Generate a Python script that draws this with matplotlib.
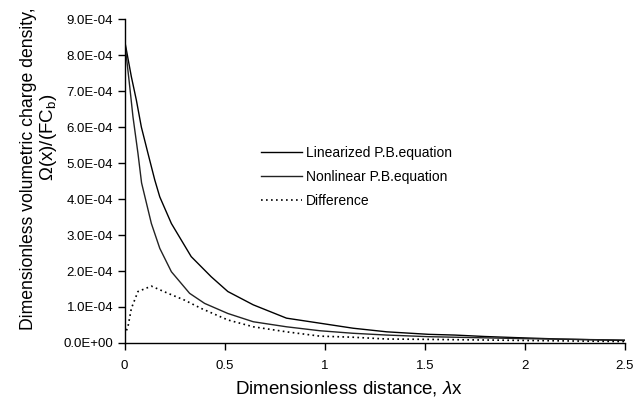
import matplotlib
matplotlib.use("Agg")
import matplotlib.pyplot as plt
from matplotlib.ticker import FuncFormatter, MultipleLocator

plt.rcParams['font.family'] = ['Liberation Sans', 'DejaVu Sans']
plt.rcParams['mathtext.fontset'] = 'custom'
plt.rcParams['mathtext.rm'] = 'Liberation Sans'
plt.rcParams['mathtext.it'] = 'Liberation Sans:italic'

# Linearized P.B. equation
x_lin = [0, 0.034, 0.059, 0.084, 0.117, 0.151, 0.176, 0.234, 0.333, 0.433, 0.516,
         0.643, 0.809, 0.976, 1.142, 1.31, 1.52, 1.65, 1.80, 1.95, 2.17, 2.5]
y_lin = [8.42e-4, 7.4e-4, 6.75e-4, 6.0e-4, 5.27e-4, 4.53e-4, 4.06e-4, 3.32e-4, 2.40e-4,
         1.84e-4, 1.43e-4, 1.06e-4, 0.69e-4, 0.55e-4, 0.41e-4, 0.31e-4, 0.24e-4,
         0.22e-4, 0.18e-4, 0.15e-4, 0.11e-4, 0.07e-4]

# Nonlinear P.B. equation
x_non = [0, 0.026, 0.042, 0.067, 0.085, 0.134, 0.176, 0.234, 0.325, 0.4, 0.516,
         0.643, 0.809, 0.976, 1.14, 1.31, 1.52, 2.0, 2.5]
y_non = [8.42e-4, 7.12e-4, 6.29e-4, 5.27e-4, 4.45e-4, 3.32e-4, 2.63e-4, 1.98e-4, 1.38e-4,
         1.10e-4, 0.82e-4, 0.59e-4, 0.45e-4, 0.34e-4, 0.27e-4, 0.22e-4, 0.175e-4,
         0.12e-4, 0.08e-4]

# Difference
x_dif = [0, 0.017, 0.034, 0.067, 0.134, 0.217, 0.3, 0.383, 0.516, 0.643, 0.809,
         0.976, 1.14, 1.31, 1.52, 2.0, 2.5]
y_dif = [0.22e-4, 0.45e-4, 0.96e-4, 1.43e-4, 1.58e-4, 1.38e-4, 1.19e-4, 0.96e-4,
         0.64e-4, 0.45e-4, 0.31e-4, 0.19e-4, 0.16e-4, 0.11e-4, 0.10e-4, 0.07e-4, 0.04e-4]

labels = ['Linearized P.B.equation', 'Nonlinear P.B.equation', 'Difference']

fig = plt.figure(figsize=(6.42, 3.99), dpi=100)
ax = fig.add_axes([0.194, 0.1404, 0.7795, 0.8116])

ax.plot(x_lin, y_lin, color='black', lw=1.0, label=labels[0])
ax.plot(x_non, y_non, color='#222222', lw=1.0, label=labels[1])
ax.plot(x_dif, y_dif, color='black', lw=1.2, ls=(0, (1, 2)), label=labels[2])

ax.set_xlim(0, 2.5)
ax.set_ylim(0, 9e-4)
ax.xaxis.set_major_locator(MultipleLocator(0.5))
ax.yaxis.set_major_locator(MultipleLocator(1e-4))
ax.xaxis.set_major_formatter(FuncFormatter(lambda v, p: f"{v:g}"))
ax.yaxis.set_major_formatter(FuncFormatter(lambda v, p: f"{v:.1E}"))

for s in ['top', 'right']:
    ax.spines[s].set_visible(False)
for s in ['left', 'bottom']:
    ax.spines[s].set_linewidth(1.0)
ax.tick_params(direction='out', length=5, width=1.0, labelsize=9.5, colors='black')
ax.tick_params(axis='x', pad=7.5)
ax.tick_params(axis='y', pad=3.2)

fig.text(0.544, 0.027, r'Dimensionless distance, $\lambda$x', ha='center', va='center',
         fontsize=13.5)

fig.text(0.044, 0.576, 'Dimensionless volumetric charge density,', rotation=90,
         ha='center', va='center', fontsize=12.7)
fig.text(0.075, 0.657, r'Ω(x)/(FC$_\mathregular{b}$)', rotation=90,
         ha='center', va='center', fontsize=13.5)

ax.legend(loc='center left', bbox_to_anchor=(0.4065, 0.556), bbox_transform=fig.transFigure,
          frameon=False, fontsize=10, handlelength=2.95, handletextpad=0.3,
          labelspacing=0.72, borderpad=0, borderaxespad=0)

fig.savefig('out.png', dpi=100)
